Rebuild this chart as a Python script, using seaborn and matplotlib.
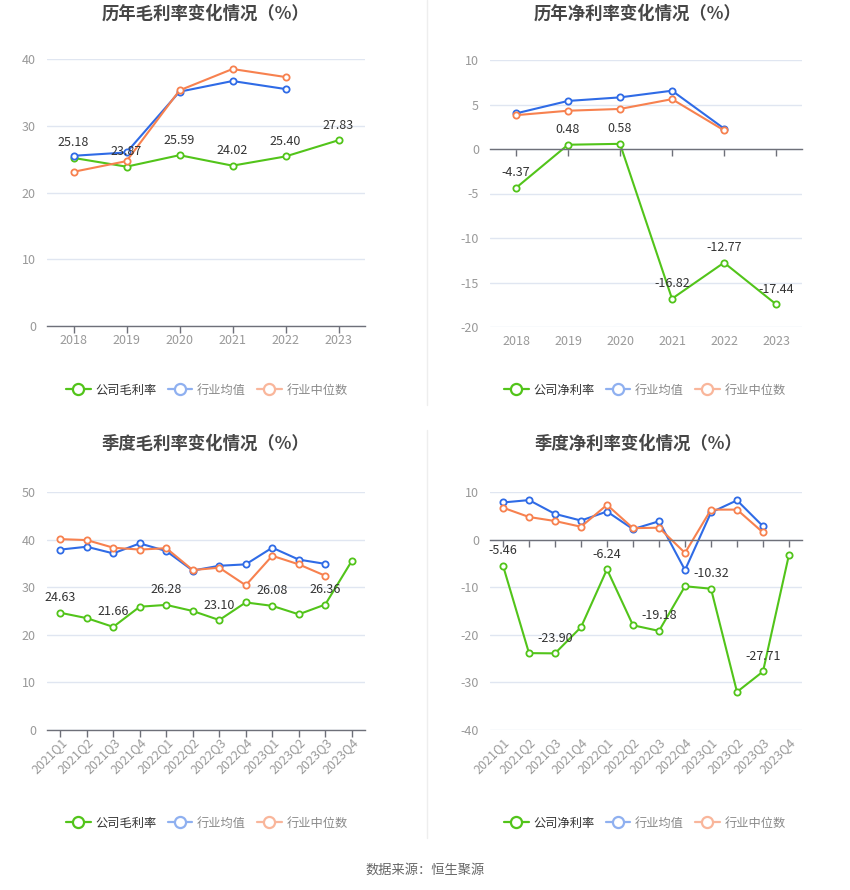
import numpy as np
import pandas as pd
import seaborn as sns
import matplotlib
matplotlib.use("Agg")
import matplotlib.pyplot as plt
from matplotlib.lines import Line2D

# ---------------- data ----------------
years = ["2018", "2019", "2020", "2021", "2022", "2023"]
quarters = ["2021Q1", "2021Q2", "2021Q3", "2021Q4",
            "2022Q1", "2022Q2", "2022Q3", "2022Q4",
            "2023Q1", "2023Q2", "2023Q3", "2023Q4"]

year_gross_company = [25.18, 23.87, 25.59, 24.02, 25.40, 27.83]
year_gross_mean = [25.5, 26.0, 35.1, 36.7, 35.5]
year_gross_median = [23.1, 24.7, 35.3, 38.5, 37.3]

year_net_company = [-4.37, 0.48, 0.58, -16.82, -12.77, -17.44]
year_net_mean = [4.0, 5.4, 5.8, 6.55, 2.3]
year_net_median = [3.8, 4.3, 4.5, 5.6, 2.1]

q_gross_company = [24.63, 23.5, 21.66, 25.9, 26.28, 25.0, 23.10, 26.8, 26.08, 24.3, 26.36, 35.5]
q_gross_mean = [37.9, 38.5, 37.1, 39.2, 37.6, 33.5, 34.5, 34.8, 38.3, 35.8, 34.9]
q_gross_median = [40.1, 39.9, 38.3, 37.9, 38.2, 33.6, 34.1, 30.4, 36.6, 34.8, 32.4]

q_net_company = [-5.46, -23.85, -23.90, -18.4, -6.24, -18.0, -19.18, -9.8, -10.32, -32.0, -27.71, -3.15]
q_net_mean = [7.8, 8.3, 5.4, 4.0, 5.9, 2.2, 3.85, -6.4, 5.7, 8.25, 2.8]
q_net_median = [6.7, 4.75, 3.9, 2.7, 7.3, 2.4, 2.5, -2.8, 6.3, 6.3, 1.5]

titles = ["历年毛利率变化情况（%）", "历年净利率变化情况（%）",
          "季度毛利率变化情况（%）", "季度净利率变化情况（%）"]
legend_gross = ["公司毛利率", "行业均值", "行业中位数"]
legend_net = ["公司净利率", "行业均值", "行业中位数"]
source_text = "数据来源：恒生聚源"

# ---------------- style ----------------
sns.set_theme(style="white")
plt.rcParams["font.family"] = ["Noto Sans CJK SC", "DejaVu Sans"]
plt.rcParams["axes.unicode_minus"] = False

GREEN = "#52c41a"
BLUE = "#2f6be6"
ORANGE = "#f7814f"
GRID = "#e0e6f1"
AXIS = "#6e7079"
TICK = "#999999"
LABEL = "#333333"

W, H = 850, 890
fig = plt.figure(figsize=(W / 100, H / 100), dpi=100)


def fx(px):
    return px / W


def fy(py):
    return 1 - py / H


def make_ax(left, top, right, bottom):
    return fig.add_axes([fx(left), fy(bottom), fx(right - left), (bottom - top) / H])


def draw_panel(ax, cats, company, mean, median, ylim, yticks, label_idx, rotate):
    series = [(company, GREEN), (mean, BLUE), (median, ORANGE)]
    for vals, col in series:
        df = pd.DataFrame({"x": np.arange(len(vals)), "y": vals})
        sns.lineplot(data=df, x="x", y="y", ax=ax, color=col, linewidth=1.5,
                     marker="o", markersize=4.5, markerfacecolor="white",
                     markeredgecolor=col, markeredgewidth=1.3, errorbar=None,
                     sort=False, legend=False)
    for i in label_idx:
        ax.annotate(f"{company[i]:.2f}", (i, company[i]), xytext=(0, 15),
                    textcoords="offset pixels", ha="center", va="center",
                    fontsize=9, color=LABEL, zorder=5)
    ax.set_xlim(-0.5, len(cats) - 0.5)
    ax.set_ylim(*ylim)
    ax.set_yticks(yticks)
    ax.set_yticklabels([f"{t:g}" for t in yticks])
    ax.yaxis.grid(True, color=GRID, linewidth=1)
    ax.xaxis.grid(False)
    ax.set_xlabel("")
    ax.set_ylabel("")
    for s in ["left", "right", "top"]:
        ax.spines[s].set_visible(False)
    ax.tick_params(axis="y", length=0, pad=8, labelsize=9, labelcolor=TICK)
    # axis line at zero with ticks
    ax.spines["bottom"].set_position(("data", 0))
    ax.spines["bottom"].set_color(AXIS)
    ax.spines["bottom"].set_linewidth(1)
    ax.set_xticks(np.arange(len(cats)))
    ax.set_xticklabels([""] * len(cats))
    ax.tick_params(axis="x", length=5, width=1, color=AXIS, direction="out", bottom=True)
    # labels at the bottom of the plotting area
    sec = ax.secondary_xaxis(0)
    sec.set_xticks(np.arange(len(cats)))
    sec.spines["bottom"].set_visible(False)
    if rotate:
        sec.set_xticklabels(cats, rotation=45, ha="right", va="top",
                            rotation_mode="anchor")
        sec.tick_params(axis="x", length=0, pad=4, labelsize=9, labelcolor=TICK)
    else:
        sec.set_xticklabels(cats)
        sec.tick_params(axis="x", length=0, pad=6, labelsize=9, labelcolor=TICK)


ax1 = make_ax(47, 59, 365, 326)
draw_panel(ax1, years, year_gross_company, year_gross_mean, year_gross_median,
           (0, 40), [0, 10, 20, 30, 40], range(6), False)
ax2 = make_ax(490, 60, 802, 327)
draw_panel(ax2, years, year_net_company, year_net_mean, year_net_median,
           (-20, 10), [-20, -15, -10, -5, 0, 5, 10], range(6), False)
ax3 = make_ax(47, 492, 365, 730)
draw_panel(ax3, quarters, q_gross_company, q_gross_mean, q_gross_median,
           (0, 50), [0, 10, 20, 30, 40, 50], range(0, 12, 2), True)
ax4 = make_ax(490, 492, 802, 730)
draw_panel(ax4, quarters, q_net_company, q_net_mean, q_net_median,
           (-40, 10), [-40, -30, -20, -10, 0, 10], range(0, 12, 2), True)

# titles
for (cx, cy), t in zip([(205, 14), (638, 14), (205, 444), (638, 444)], titles):
    fig.text(fx(cx), fy(cy), t, ha="center", va="center", fontsize=12.5,
             fontweight="bold", color="#464646")


# legends
def legend_at(cx, cy, names):
    cols = [GREEN, "#8fb0f0", "#f9b69b"]
    tcols = ["#333333", "#8a8a8a", "#8a8a8a"]
    handles = [Line2D([0], [0], color=c, linewidth=1.6, marker="o", markersize=8,
                      markerfacecolor="white", markeredgecolor=c, markeredgewidth=1.6)
               for c in cols]
    leg = fig.legend(handles, names, loc="center", bbox_to_anchor=(fx(cx), fy(cy)),
                     ncol=3, frameon=False, fontsize=8.8, handlelength=2.0,
                     handletextpad=0.4, columnspacing=0.9, borderaxespad=0)
    for txt, c in zip(leg.get_texts(), tcols):
        txt.set_color(c)


legend_at(207, 390, legend_gross)
legend_at(645, 390, legend_net)
legend_at(207, 823, legend_gross)
legend_at(645, 823, legend_net)

# separators
fig.add_artist(Line2D([fx(427), fx(427)], [fy(0), fy(405)], color="#eeeeee", linewidth=1))
fig.add_artist(Line2D([fx(427), fx(427)], [fy(430), fy(838)], color="#eeeeee", linewidth=1))

fig.text(fx(425), fy(870), source_text, ha="center", va="center", fontsize=9.5,
         color="#666666")

fig.savefig("out.png", dpi=100, facecolor="white")
